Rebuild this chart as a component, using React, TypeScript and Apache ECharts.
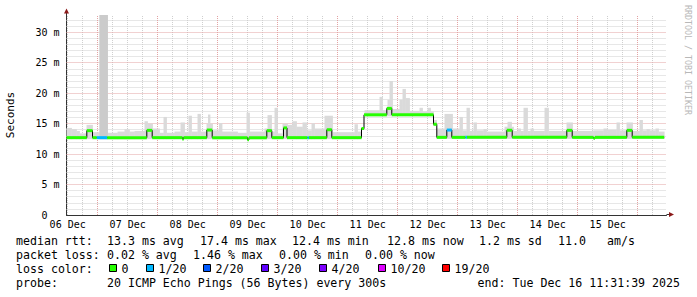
import React, { useEffect, useRef } from 'react';
import * as echarts from 'echarts';

// time axis: hours since 06 Dec 00:00
const START_H = 11.53; // 06 Dec 11:31:39
const END_H = 251.53; // 16 Dec 11:31:39
const Y_MAX = 32.84;

const dayLabels = ['06 Dec', '07 Dec', '08 Dec', '09 Dec', '10 Dec', '11 Dec', '12 Dec', '13 Dec', '14 Dec', '15 Dec'];
const dayLabelHours = [12, 36, 60, 84, 108, 132, 156, 180, 204, 228];
const yTickValues = [0, 5, 10, 15, 20, 25, 30];

// median rtt (ms), piecewise constant from each start hour
const medianStart = [11.53, 19.65, 21.93, 23.65, 27.81, 43.65, 45.81, 57.93, 58.33, 67.65, 69.81, 83.93, 84.5, 91.65, 93.65, 98.33, 99.73, 107.93, 108.5, 115.65, 117.65, 129.53, 130.53, 139.65, 141.65, 158.33, 159.65, 163.65, 165.65, 171.13, 171.73, 187.65, 189.81, 211.65, 213.81, 222.33, 222.93, 235.65, 237.81];
const medianValue = [12.7, 13.85, 12.7, 12.7, 12.7, 13.9, 12.7, 12.45, 12.7, 13.95, 12.7, 12.35, 12.7, 13.85, 12.7, 14.3, 12.7, 12.7, 12.7, 14.0, 12.7, 14.2, 16.45, 17.5, 16.45, 14.9, 12.75, 13.95, 12.75, 12.75, 12.75, 13.9, 12.75, 13.9, 12.75, 12.6, 12.75, 13.9, 12.75];
const medianLoss = [0, 0, 0, 1, 0, 0, 0, 0, 0, 0, 0, 0, 0, 0, 0, 0, 0, 1, 0, 0, 0, 0, 0, 0, 0, 0, 0, 1, 0, 1, 0, 0, 0, 0, 0, 0, 0, 0, 0];
const dataEnd = 250.6;

// smoke (max ping) top, piecewise constant
const smokeStart = [11.53, 13.53, 15.53, 16.73, 19.53, 21.93, 24.73, 27.93, 31.93, 34.73, 36.73, 38.73, 42.73, 43.93, 45.93, 48.73, 50.33, 51.53, 54.73, 57.13, 58.73, 60.33, 61.53, 63.93, 65.13, 67.53, 68.13, 68.93, 69.93, 72.53, 73.73, 79.93, 83.53, 84.73, 90.73, 91.93, 93.53, 94.73, 95.93, 97.93, 99.93, 101.93, 103.53, 105.93, 107.53, 109.53, 110.73, 114.73, 117.93, 126.73, 127.93, 129.53, 130.73, 136.73, 137.93, 139.93, 140.73, 141.93, 144.73, 145.93, 147.13, 148.73, 152.73, 153.93, 155.93, 157.13, 158.33, 159.53, 162.73, 165.93, 168.73, 169.93, 171.53, 172.73, 174.33, 175.53, 178.33, 179.53, 186.73, 187.93, 189.53, 190.33, 191.93, 193.13, 194.33, 195.93, 197.13, 198.33, 202.73, 204.33, 211.53, 213.93, 222.33, 226.33, 227.93, 231.53, 232.73, 235.53, 237.93, 240.73, 241.93, 243.53, 244.73, 247.13, 248.33];
const smokeTop = [14.3, 14.1, 13.8, 13.4, 14.8, 13.6, 32.84, 13.5, 13.7, 14.1, 13.7, 13.8, 15.4, 15.0, 14.2, 13.5, 16.1, 13.5, 13.7, 15.2, 13.6, 16.3, 13.7, 16.6, 13.7, 15.0, 16.5, 15.0, 13.9, 15.1, 13.7, 13.5, 16.8, 13.7, 14.2, 16.4, 13.7, 17.6, 13.4, 15.0, 14.8, 15.4, 14.5, 15.2, 13.9, 15.05, 14.2, 16.3, 13.6, 14.9, 13.7, 14.3, 17.2, 19.4, 17.2, 18.9, 22.0, 17.4, 18.9, 20.7, 19.2, 17.1, 17.6, 17.0, 17.6, 17.0, 15.6, 14.2, 16.6, 14.2, 16.1, 13.9, 17.6, 13.8, 15.2, 13.9, 14.1, 13.7, 14.5, 15.3, 14.5, 13.8, 14.2, 13.8, 17.6, 13.8, 14.2, 13.8, 17.6, 13.8, 15.2, 13.8, 13.9, 14.2, 14.0, 15.2, 13.9, 15.2, 13.8, 15.6, 13.9, 14.1, 13.9, 14.2, 13.7];
const smokeBaseStart = [11.53, 129.53, 130.73, 158.33, 159.53];
const smokeBaseValue = [12.45, 14.0, 16.2, 14.6, 12.5];
const darkSmokeStart = [24.73];
const darkSmokeEnd = [27.93];
const darkSmokeTop = [32.84];

const lossColors = ['#26ff00', '#00b8ff', '#0059ff', '#5e00ff', '#7e00ff', '#dd00ff', '#ff0000'];
const lossLabels = ['0', '1/20', '2/20', '3/20', '4/20', '10/20', '19/20'];

const medianStats = ['13.3 ms avg', '17.4 ms max', '12.4 ms min', '12.8 ms now', '1.2 ms sd', '11.0', 'am/s'];
const lossStats = ['0.02 % avg', '1.46 % max', '0.00 % min', '0.00 % now'];
const probeText = '20 ICMP Echo Pings (56 Bytes) every 300s';
const endText = 'end: Tue Dec 16 11:31:39 2025';

const MONO = '"DejaVu Sans Mono", monospace';
const LEG_FONT = '11.6px ' + MONO;

function baseAt(h: number) {
  let v = smokeBaseValue[0];
  for (let i = 0; i < smokeBaseStart.length; i++) if (h >= smokeBaseStart[i] - 1e-6) v = smokeBaseValue[i];
  return v;
}

export default function App() {
  const ref = useRef<HTMLDivElement>(null);
  useEffect(() => {
    if (!ref.current) return;
    const chart = echarts.init(ref.current, undefined, { renderer: 'svg' });

    const smokeData = smokeStart.map((s, i) => [s, i + 1 < smokeStart.length ? smokeStart[i + 1] : dataEnd, baseAt(s), smokeTop[i]]);
    const darkData = darkSmokeStart.map((s, i) => [s, darkSmokeEnd[i], baseAt(s), darkSmokeTop[i]]);
    const lossData = medianStart.map((s, i) => [s, i + 1 < medianStart.length ? medianStart[i + 1] : dataEnd, medianValue[i], medianLoss[i]]);
    const medianLine = medianStart.map((s, i) => [s, medianValue[i]]);
    medianLine.push([dataEnd, medianValue[medianValue.length - 1]]);

    const gridLines: any[] = [];
    const minorC = '#cfcfcf';
    const majorC = '#e3a3a3';
    for (let h = 12; h < END_H; h += 6) {
      if (h % 24 !== 0) gridLines.push({ xAxis: h, lineStyle: { color: minorC, type: [1, 1], width: 1 } });
    }
    for (let v = 1; v < Y_MAX; v++) {
      if (v % 5 !== 0) gridLines.push({ yAxis: v, lineStyle: { color: minorC, type: [1, 1], width: 1 } });
    }
    for (let h = 24; h < END_H; h += 24) gridLines.push({ xAxis: h, lineStyle: { color: majorC, type: [1, 1], width: 1 } });
    for (let v = 5; v < Y_MAX; v += 5) gridLines.push({ yAxis: v, lineStyle: { color: majorC, type: [1, 1], width: 1 } });

    const rectItem = (fill: string) => (params: any, api: any) => {
      const a = api.coord([api.value(0), api.value(3)]);
      const b = api.coord([api.value(1), api.value(2)]);
      return { type: 'rect', shape: { x: a[0], y: a[1], width: b[0] - a[0] + 0.4, height: b[1] - a[1] }, style: { fill } };
    };

    const graphic: any[] = [];
    // axis extensions and arrows
    graphic.push({ type: 'line', shape: { x1: 66.5, y1: 15, x2: 66.5, y2: 11 }, style: { stroke: '#333', lineWidth: 1 } });
    graphic.push({ type: 'polygon', shape: { points: [[64, 13.5], [69, 13.5], [66.5, 8.5]] }, style: { fill: '#8b1a1a' } });
    graphic.push({ type: 'line', shape: { x1: 666.5, y1: 214.5, x2: 670, y2: 214.5 }, style: { stroke: '#333', lineWidth: 1 } });
    graphic.push({ type: 'polygon', shape: { points: [[669, 212], [669, 217], [674, 214.5]] }, style: { fill: '#8b1a1a' } });
    // watermark
    graphic.push({ type: 'text', x: 687.5, y: 60, rotation: -Math.PI / 2, style: { text: 'RRDTOOL / TOBI OETIKER', font: '8.3px ' + MONO, fill: '#b8b8b8', align: 'center', verticalAlign: 'middle', textAlign: 'center', textVerticalAlign: 'middle' } });

    const txt = (text: string, x: number, y: number, align = 'left') => ({
      type: 'text', x, y,
      style: { text, font: LEG_FONT, fill: '#000', align, verticalAlign: 'middle', textAlign: align, textVerticalAlign: 'middle' },
    });
    const rowY = [241, 255, 269, 283];
    const row1X = [16, 107, 200, 292, 387, 479, 558, 607];
    ['median rtt:', ...medianStats].forEach((t, i) => graphic.push(txt(t, row1X[i], rowY[0])));
    const row2X = [16, 107, 193, 279, 365];
    ['packet loss:', ...lossStats].forEach((t, i) => graphic.push(txt(t, row2X[i], rowY[1])));
    graphic.push(txt('loss color:', 16, rowY[2]));
    const boxX = [109, 146, 203, 261, 319, 378, 442];
    lossLabels.forEach((t, i) => {
      graphic.push({ type: 'rect', shape: { x: boxX[i] + 0.5, y: rowY[2] - 4.5, width: 7, height: 7 }, style: { fill: lossColors[i], stroke: '#000', lineWidth: 1 } });
      graphic.push(txt(t, boxX[i] + 12.5, rowY[2]));
    });
    graphic.push(txt('probe:', 16, rowY[3]));
    graphic.push(txt(probeText, 107, rowY[3]));
    graphic.push(txt(endText, 680, rowY[3], 'right'));

    const option: any = {
      animation: false,
      backgroundColor: '#ffffff',
      grid: { left: 66.5, top: 15, width: 600, height: 200, containLabel: false, outerBoundsMode: 'none' },
      xAxis: {
        type: 'value', min: START_H, max: END_H,
        axisLine: { show: true, onZero: false, lineStyle: { color: '#333', width: 1 } },
        axisTick: { show: false },
        splitLine: { show: false },
        axisLabel: {
          customValues: dayLabelHours,
          formatter: (v: number) => {
            const i = dayLabelHours.findIndex((h) => Math.abs(h - v) < 0.01);
            return i >= 0 ? dayLabels[i] : '';
          },
          fontFamily: MONO, fontSize: 10, color: '#000', margin: 4,
        },
      },
      yAxis: {
        type: 'value', min: 0, max: Y_MAX, interval: 5,
        name: 'Seconds', nameLocation: 'middle', nameGap: 51,
        nameTextStyle: { fontFamily: MONO, fontSize: 11, color: '#000' },
        axisLine: { show: true, onZero: false, lineStyle: { color: '#333', width: 1 } },
        axisTick: { show: false },
        splitLine: { show: false },
        axisLabel: {
          customValues: yTickValues,
          formatter: (v: number) => (Math.abs(v) < 1e-9 ? '0\u00a0\u00a0' : (Math.abs(v % 5) < 1e-9 ? v + ' m' : '')),
          fontFamily: MONO, fontSize: 10, color: '#000', margin: 7,
        },
      },
      series: [
        {
          type: 'line', data: [], silent: true, z: 1,
          markLine: { silent: true, z: 1, symbol: ['none', 'none'], label: { show: false }, emphasis: { disabled: true }, animation: false, data: gridLines },
        },
        { type: 'custom', z: 2, silent: true, data: smokeData, encode: { x: [0, 1], y: [2, 3] }, renderItem: rectItem('#dadada') },
        { type: 'custom', z: 3, silent: true, data: darkData, encode: { x: [0, 1], y: [2, 3] }, renderItem: rectItem('#cbcbcb') },
        {
          type: 'line', z: 4, silent: true, data: medianLine, step: 'end', showSymbol: false, symbol: 'none',
          lineStyle: { color: '#000', width: 1 },
        },
        {
          type: 'custom', z: 5, silent: true, data: lossData, encode: { x: [0, 1], y: 2 },
          renderItem: (params: any, api: any) => {
            const a = api.coord([api.value(0), api.value(2)]);
            const b = api.coord([api.value(1), api.value(2)]);
            return { type: 'rect', shape: { x: a[0], y: a[1] - 1.5, width: b[0] - a[0], height: 3 }, style: { fill: lossColors[api.value(3)] } };
          },
        },
      ],
      graphic,
    };
    chart.setOption(option);
    return () => chart.dispose();
  }, []);
  return <div ref={ref} style={{ position: 'fixed', left: 0, top: 0, width: 697, height: 297, background: '#fff' }} />;
}
